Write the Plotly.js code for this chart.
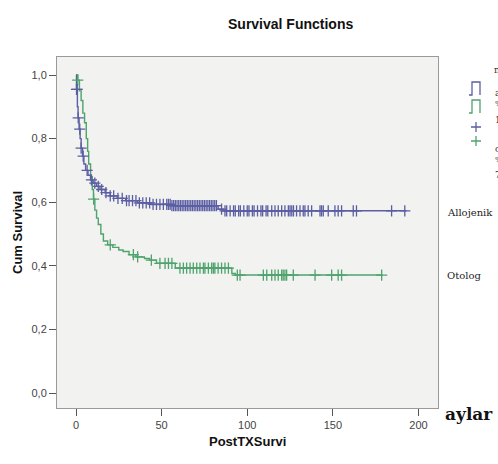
<!DOCTYPE html>
<html>
<head>
<meta charset="utf-8">
<script src="https://cdn.plot.ly/plotly-3.0.1.min.js"></script>
<style>
  html, body { margin: 0; padding: 0; background: #ffffff; }
  #chart { width: 498px; height: 464px; }
</style>
</head>
<body>
<div id="chart"></div>
<script>
// Kaplan-Meier estimates by transplant type (months after transplant)
const groupNames = ["Allojenik", "Otolog"];

// Allojenik: event times and survival after each step
const alloTimes = [0.3, 0.8, 1.2, 1.8, 2.4, 3.0, 3.8, 4.6, 5.6, 7.0, 8.5, 10, 12, 14, 17, 20, 24, 29, 36, 44, 56, 83, 86];
const alloSurv  = [0.955, 0.90, 0.865, 0.83, 0.80, 0.77, 0.745, 0.72, 0.70, 0.685, 0.67, 0.66, 0.65, 0.64, 0.63, 0.62, 0.612, 0.605, 0.598, 0.593, 0.589, 0.578, 0.573];
const alloEnd = 193;
const alloCensored = [0.3, 0.7, 1.3, 2.2, 3.0, 4.2, 6.5, 9, 11, 13, 15, 17.5, 20, 22, 24.5, 27, 29.5, 31, 33, 35, 37, 39, 41, 43, 45, 47, 49,
  51, 53, 54, 55, 56, 57, 58, 59, 60, 61, 62, 63, 64, 65, 66, 67, 68, 69, 70, 71, 72, 73, 74, 75, 76, 77, 78, 79, 80, 81, 82,
  85, 87, 88, 90, 92, 93, 95, 96, 98, 100, 101, 103, 104, 106, 108, 109, 111, 112, 114.3, 116.2, 118.1, 120.1, 122, 124, 125,
  126, 127, 128.8, 130.8, 132.7, 133.7, 135.6, 137.6, 142.5, 143.4, 144.4, 147.3, 151.2, 153.1, 155.1, 161.9, 163.8, 184.3, 192];

// Otolog: event times and survival after each step
const otoTimes = [1.0, 2.0, 3.0, 4.0, 5.0, 6.0, 6.8, 7.4, 8.5, 9.5, 10.2, 11, 12, 13, 14.5, 16, 18.5, 21.5, 25, 27.5, 31, 35, 40, 43, 47, 58, 91, 93];
const otoSurv  = [0.984, 0.95, 0.92, 0.88, 0.85, 0.80, 0.76, 0.72, 0.68, 0.64, 0.61, 0.575, 0.55, 0.53, 0.50, 0.478, 0.466, 0.458, 0.45, 0.445, 0.435, 0.428, 0.423, 0.418, 0.408, 0.393, 0.376, 0.371];
const otoEnd = 179;
const otoCensored = [1.0, 10.3, 20, 33.5, 36, 44, 49, 52, 54, 56, 60.7, 62.7, 64.6, 66.6, 68.5, 70.5, 72.4, 74.4, 75.3, 77.3,
  79.2, 80.2, 81.1, 83, 85, 87, 89, 94.2, 95.8, 109.4, 111.4, 114.3, 116.2, 118.1, 120.1, 121, 122, 123, 126.9, 139.6,
  149.3, 153.1, 155.1, 178.5];

const xTicks = [0, 50, 100, 150, 200];
const yTicks = [0, 0.2, 0.4, 0.6, 0.8, 1.0];

const alloColor = "#5b5ea3";
const otoColor = "#4fa36d";

// value of a step survival curve at time t
function survivalAt(times, surv, t) {
  let s = 1.0;
  for (let i = 0; i < times.length; i++) {
    if (times[i] <= t) s = surv[i]; else break;
  }
  return s;
}

function stepTrace(times, surv, end, color) {
  return {
    x: [0].concat(times, [end]),
    y: [1.0].concat(surv, [surv[surv.length - 1]]),
    type: "scatter", mode: "lines",
    line: { shape: "hv", color: color, width: 1.4 },
    hoverinfo: "skip", showlegend: false
  };
}

function censorTrace(times, surv, cens, color) {
  return {
    x: cens,
    y: cens.map(t => survivalAt(times, surv, t)),
    type: "scatter", mode: "markers",
    marker: { symbol: "cross-thin-open", size: 8, color: color, line: { color: color, width: 1.3 } },
    hoverinfo: "skip", showlegend: false
  };
}

const traces = [
  stepTrace(otoTimes, otoSurv, otoEnd, otoColor),
  stepTrace(alloTimes, alloSurv, alloEnd, alloColor),
  censorTrace(otoTimes, otoSurv, otoCensored, otoColor),
  censorTrace(alloTimes, alloSurv, alloCensored, alloColor)
];

// plot area: 57..438 px horizontally, 57..408 px vertically
const L = 57, R = 438, T = 57, B = 408;
const px = v => (v - L) / (R - L);
const py = v => (B - v) / (B - T);

const sans = "Liberation Sans, Arial, sans-serif";
const serif = "DejaVu Serif, Liberation Serif, serif";

const annotations = [
  { text: "<b>Survival Functions</b>", x: px(290), y: py(14), xanchor: "center", font: { family: sans, size: 14, color: "#111" } },
  { text: "<b>Cum Survival</b>", x: px(18), y: py(233), xanchor: "center", textangle: -90, font: { family: sans, size: 13, color: "#111" } },
  { text: "<b>PostTXSurvi</b>", x: px(247), y: py(451), xanchor: "center", font: { family: sans, size: 13, color: "#111" } },
  { text: "<b>aylar</b>", x: px(443), y: py(426), xanchor: "left", font: { family: serif, size: 17, color: "#111" } },
  { text: groupNames[0], x: px(445), y: py(212), xanchor: "left", font: { family: serif, size: 10, color: "#222" } },
  { text: groupNames[1], x: px(445), y: py(275), xanchor: "left", font: { family: serif, size: 10, color: "#222" } },
  // legend column, cut off at the right edge
  { text: "n", x: px(492), y: py(63), xanchor: "left", font: { family: serif, size: 9, color: "#333" } },
  { text: "a", x: px(493), y: py(86), xanchor: "left", font: { family: serif, size: 9, color: "#333" } },
  { text: "%", x: px(493), y: py(97), xanchor: "left", font: { family: serif, size: 8, color: "#333" } },
  { text: "1", x: px(493), y: py(113), xanchor: "left", font: { family: serif, size: 9, color: "#333" } },
  { text: "c", x: px(493), y: py(142), xanchor: "left", font: { family: serif, size: 9, color: "#333" } },
  { text: "%", x: px(493), y: py(153), xanchor: "left", font: { family: serif, size: 8, color: "#333" } },
  { text: "7", x: px(493), y: py(168), xanchor: "left", font: { family: serif, size: 9, color: "#333" } }
].map(a => Object.assign({ xref: "paper", yref: "paper", showarrow: false }, a));

// legend icons: step line and censor cross for each group
const stepIcon = (x0, y0, color) => ({
  type: "path", xref: "paper", yref: "paper",
  path: `M ${px(x0)} ${py(y0 + 13)} L ${px(x0 + 3)} ${py(y0 + 13)} L ${px(x0 + 3)} ${py(y0)} L ${px(x0 + 11)} ${py(y0)} L ${px(x0 + 11)} ${py(y0 + 13)}`,
  line: { color: color, width: 1.3 }
});
const crossIcon = (cx, cy, color) => ({
  type: "path", xref: "paper", yref: "paper",
  path: `M ${px(cx - 5)} ${py(cy)} L ${px(cx + 5)} ${py(cy)} M ${px(cx)} ${py(cy - 5)} L ${px(cx)} ${py(cy + 5)}`,
  line: { color: color, width: 1.3 }
});

const layout = {
  width: 498, height: 464,
  margin: { l: L, r: 498 - R, t: T, b: 464 - B, pad: 0 },
  paper_bgcolor: "#ffffff",
  plot_bgcolor: "#f2f2f0",
  separators: ",.",
  showlegend: false,
  xaxis: {
    range: [-11.1, 211.4], tickvals: xTicks, ticks: "outside", ticklen: 7, tickwidth: 1, tickcolor: "#555",
    showline: true, mirror: true, linecolor: "#9a9a9a", linewidth: 1,
    showgrid: false, zeroline: false,
    tickfont: { family: sans, size: 11, color: "#444" }
  },
  yaxis: {
    range: [-0.047, 1.0566], tickvals: yTicks, tickformat: ".1f", ticks: "outside", ticklen: 7, tickwidth: 1, tickcolor: "#555",
    showline: true, mirror: true, linecolor: "#9a9a9a", linewidth: 1,
    showgrid: false, zeroline: false,
    tickfont: { family: sans, size: 11, color: "#444" }
  },
  annotations: annotations,
  shapes: [
    stepIcon(469, 82, alloColor), stepIcon(469, 100, otoColor),
    crossIcon(476, 127, alloColor), crossIcon(476, 141, otoColor)
  ]
};

Plotly.newPlot("chart", traces, layout, { displayModeBar: false, staticPlot: true });
</script>
</body>
</html>
